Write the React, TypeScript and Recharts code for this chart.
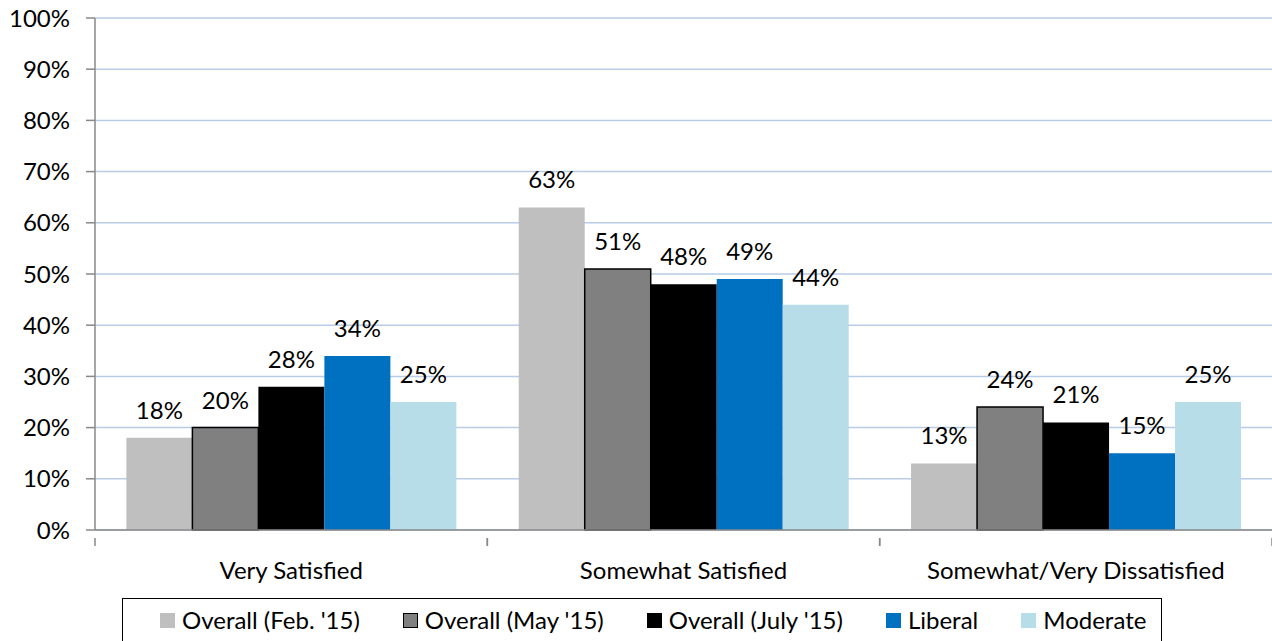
import React from "react";
import { BarChart, Bar, XAxis, YAxis, CartesianGrid, LabelList } from "recharts";

const categories = ["Very Satisfied", "Somewhat Satisfied", "Somewhat/Very Dissatisfied"];
const feb15 = [18, 63, 13];
const may15 = [20, 51, 24];
const july15 = [28, 48, 21];
const liberal = [34, 49, 15];
const moderate = [25, 44, 25];
const yTicks = [0, 10, 20, 30, 40, 50, 60, 70, 80, 90, 100];

const seriesDefs = [
  { key: "feb", name: "Overall (Feb. '15)", color: "#bfbfbf", stroke: "none" },
  { key: "may", name: "Overall (May '15)", color: "#808080", stroke: "#000000" },
  { key: "july", name: "Overall (July '15)", color: "#000000", stroke: "none" },
  { key: "liberal", name: "Liberal", color: "#0070c0", stroke: "none" },
  { key: "moderate", name: "Moderate", color: "#b7dde8", stroke: "none" },
];

const data = categories.map((c, i) => ({
  category: c,
  feb: feb15[i],
  may: may15[i],
  july: july15[i],
  liberal: liberal[i],
  moderate: moderate[i],
}));

const FONT = "Lato, 'Open Sans', sans-serif";
const FS = 24;

const XTick = (props: any) => {
  const { x, y, payload } = props;
  const half = payload && payload.offset ? payload.offset : 392.33 / 2;
  const axisY = y;
  return (
    <g>
      <line x1={x - half} y1={axisY} x2={x - half} y2={axisY + 8} stroke="#888" strokeWidth={1.5} />
      <line x1={x + half} y1={axisY} x2={x + half} y2={axisY + 8} stroke="#888" strokeWidth={1.5} />
      <text x={x} y={axisY + 41} textAnchor="middle" fontSize={FS} fontFamily={FONT} fill="#000">
        {payload.value}
      </text>
    </g>
  );
};

const LegendBox = () => (
  <div
    style={{
      position: "absolute",
      left: 122,
      top: 598,
      width: 1040,
      height: 60,
      border: "1.5px solid #000",
      boxSizing: "border-box",
      display: "flex",
      alignItems: "flex-start",
      justifyContent: "flex-start",
      paddingTop: 6,
      paddingLeft: 37,
      fontFamily: FONT,
      fontSize: FS,
      lineHeight: "30px",
      color: "#000",
      gap: 43,
    }}
  >
    {seriesDefs.map((s) => (
      <div key={s.key} style={{ display: "flex", alignItems: "center" }}>
        <span
          style={{
            display: "inline-block",
            width: 15,
            height: 15,
            background: s.color,
            border: s.stroke === "none" ? "none" : `1.5px solid ${s.stroke}`,
            boxSizing: "border-box",
            marginRight: 7,
          }}
        />
        <span>{s.name}</span>
      </div>
    ))}
  </div>
);

export default function App() {
  return (
    <div style={{ position: "fixed", left: 0, top: 0, width: 1272, height: 641, background: "#fff", overflow: "hidden" }}>
      <BarChart
        width={1272}
        height={641}
        data={data}
        margin={{ top: 18, right: 0, bottom: 0, left: 0 }}
        barCategoryGap="8%"
        barGap={0}
      >
        <CartesianGrid vertical={false} stroke="#b9cbe6" strokeWidth={1.5} />
        <XAxis
          dataKey="category"
          tickLine={false}
          axisLine={{ stroke: "#888", strokeWidth: 1.5 }}
          tick={<XTick />}
          interval={0}
          height={111}
        />
        <YAxis
          domain={[0, 100]}
          ticks={yTicks}
          width={95}
          tickSize={9}
          tickMargin={16}
          tickLine={{ stroke: "#888", strokeWidth: 1.5 }}
          axisLine={{ stroke: "#888", strokeWidth: 1.5 }}
          tickFormatter={(v: number) => `${v}%`}
          tick={{ fontSize: FS, fontFamily: FONT, fill: "#000" }}
          interval={0}
        />
        {seriesDefs.map((s) => (
          <Bar
            key={s.key}
            dataKey={s.key}
            name={s.name}
            fill={s.color}
            stroke={s.stroke}
            strokeWidth={s.stroke === "none" ? 0 : 1.5}
            isAnimationActive={false}
          >
            <LabelList
              dataKey={s.key}
              position="top"
              offset={19}
              formatter={(v: any) => `${v}%`}
              style={{ fontSize: FS, fontFamily: FONT, fill: "#000" }}
            />
          </Bar>
        ))}
      </BarChart>
      <LegendBox />
    </div>
  );
}
